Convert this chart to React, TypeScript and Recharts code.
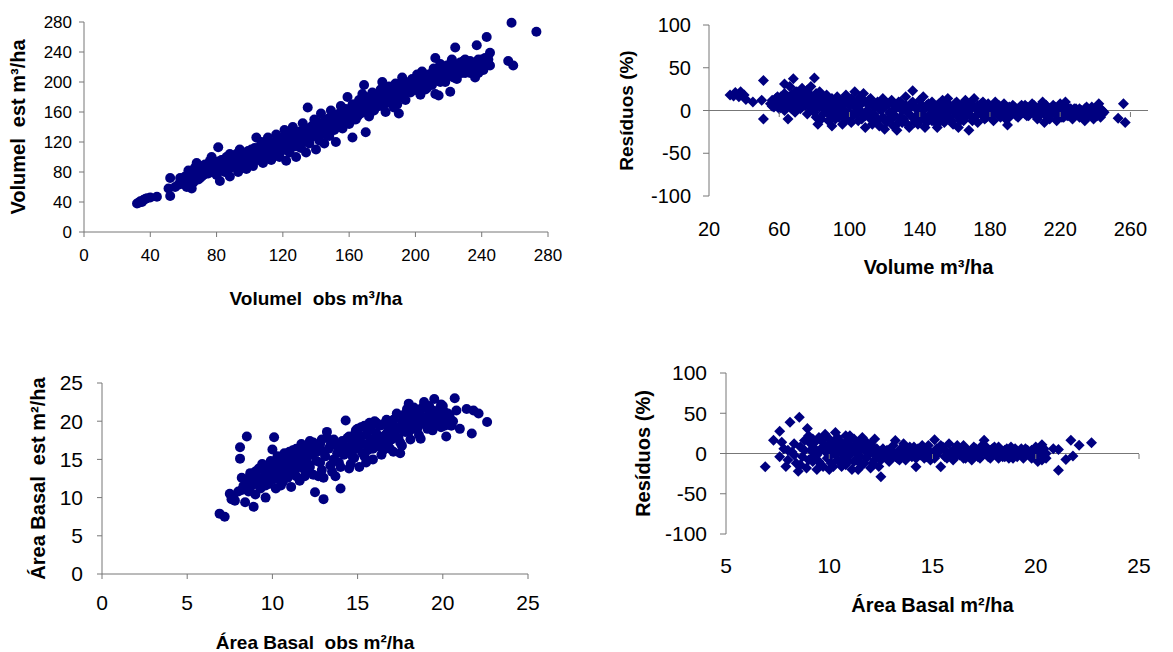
import { ScatterChart, Scatter, XAxis, YAxis, ReferenceLine } from 'recharts'

const FONT = '"Liberation Sans", Arial, sans-serif'
const NAVY = '#000080'
const AXIS = '#777777'

// tick labels
const volumeTicks = [0, 40, 80, 120, 160, 200, 240, 280]
const volumeResTicks = [20, 60, 100, 140, 180, 220, 260]
const basalTicks = [0, 5, 10, 15, 20, 25]
const basalResTicks = [5, 10, 15, 20, 25]
const residualTicks = [-100, -50, 0, 50, 100]

// volume: observed vs estimated (m³/ha)
const volumeFit: [number, number][] = [
  [32, 38], [33, 39], [34, 41], [35, 40], [36, 43], [37, 44], [38, 45], [40, 46], [44, 47],
  [51, 58], [52, 72], [52, 48], [55, 60], [57, 63], [58, 66], [58, 72], [60, 64], [60, 70],
  [61, 74], [62, 68], [62, 60], [63, 75], [63, 82], [64, 62], [64, 70], [65, 58], [65, 72],
  [66, 80], [66, 66], [67, 86], [67, 78], [68, 92], [68, 76], [69, 70], [69, 82], [70, 88],
  [70, 80], [70, 72], [71, 74], [71, 84], [72, 84], [72, 76], [73, 90], [73, 80], [74, 78],
  [74, 88], [75, 86], [75, 78], [76, 95], [76, 82], [77, 100], [77, 86], [78, 88], [78, 80],
  [79, 80], [79, 90], [80, 92], [80, 76], [80, 84], [81, 113], [81, 94], [82, 68], [82, 86],
  [83, 96], [83, 82], [84, 90], [84, 96], [85, 80], [85, 88], [86, 100], [86, 92], [87, 94],
  [87, 84], [88, 74], [88, 104], [88, 96], [89, 86], [89, 100], [90, 98], [90, 90], [91, 90],
  [91, 96], [92, 104], [92, 94], [93, 80], [93, 100], [94, 110], [94, 92], [95, 95], [95, 104],
  [96, 88], [96, 96], [97, 102], [97, 92], [98, 84], [98, 100], [99, 108], [99, 96], [100, 94],
  [100, 104], [101, 100], [101, 110], [102, 88], [102, 100], [103, 112], [103, 96], [104, 126],
  [104, 106], [105, 96], [105, 112], [106, 106], [106, 98], [107, 120], [107, 108], [108, 92],
  [108, 104], [109, 114], [109, 98], [110, 100], [110, 116], [111, 126], [111, 108], [112, 108],
  [112, 120], [113, 96], [113, 110], [114, 118], [114, 104], [115, 104], [115, 116], [116, 130],
  [116, 110], [117, 112], [117, 124], [118, 100], [118, 114], [119, 122], [119, 108], [120, 110],
  [120, 126], [121, 136], [121, 118], [122, 95], [122, 112], [123, 118], [123, 128], [124, 106],
  [124, 120], [125, 130], [125, 114], [126, 140], [126, 124], [127, 114], [127, 132], [128, 100],
  [128, 120], [129, 124], [129, 114], [130, 134], [130, 124], [131, 112], [131, 130], [132, 145],
  [132, 122], [133, 122], [133, 136], [134, 106], [134, 128], [135, 166], [135, 130], [135, 120],
  [136, 118], [136, 134], [137, 140], [137, 126], [138, 128], [138, 142], [139, 150], [139, 132],
  [140, 110], [140, 140], [141, 134], [141, 146], [142, 122], [142, 138], [143, 158], [143, 130],
  [144, 144], [144, 136], [145, 118], [145, 148], [146, 138], [146, 130], [147, 150], [147, 142],
  [148, 128], [148, 152], [149, 162], [149, 140], [150, 142], [150, 150], [151, 136], [151, 156],
  [152, 120], [152, 146], [153, 154], [153, 140], [154, 146], [154, 158], [155, 168], [155, 152],
  [156, 138], [156, 160], [157, 160], [157, 146], [158, 150], [158, 164], [159, 180], [159, 154],
  [160, 144], [160, 162], [161, 156], [161, 148], [162, 126], [162, 170], [163, 170], [163, 158],
  [164, 150], [164, 166], [165, 162], [165, 154], [166, 176], [166, 168], [167, 158], [167, 172],
  [168, 184], [168, 160], [169, 196], [169, 176], [170, 133], [170, 166], [170, 180], [171, 168],
  [172, 154], [172, 176], [173, 174], [173, 160], [174, 186], [174, 170], [175, 162], [175, 182],
  [176, 178], [176, 166], [177, 174], [178, 168], [178, 186], [179, 190], [179, 178], [180, 200],
  [180, 168], [181, 172], [181, 186], [182, 160], [182, 178], [183, 184], [183, 172], [184, 194],
  [184, 182], [185, 176], [185, 192], [186, 188], [186, 180], [187, 166], [188, 198], [188, 186],
  [189, 170], [189, 192], [190, 158], [190, 180], [191, 182], [191, 196], [192, 206], [193, 190],
  [193, 184], [194, 176], [194, 200], [195, 188], [196, 196], [197, 186], [197, 194], [198, 204],
  [199, 200], [200, 190], [200, 204], [201, 210], [202, 196], [202, 188], [203, 183], [203, 202],
  [204, 214], [205, 204], [205, 196], [206, 190], [206, 208], [207, 200], [207, 192], [208, 210],
  [209, 204], [210, 196], [210, 212], [211, 218], [212, 232], [212, 184], [212, 202], [213, 206],
  [214, 182], [214, 214], [215, 224], [215, 200], [216, 212], [217, 208], [218, 200], [218, 218],
  [219, 222], [220, 208], [220, 214], [221, 187], [221, 224], [222, 230], [223, 214], [223, 206],
  [224, 246], [224, 220], [225, 204], [225, 214], [226, 220], [227, 226], [228, 212], [228, 218],
  [229, 228], [230, 230], [230, 212], [231, 216], [232, 222], [232, 214], [233, 212], [233, 228],
  [234, 226], [235, 220], [236, 206], [236, 218], [237, 249], [237, 224], [238, 230], [238, 212],
  [239, 216], [239, 228], [240, 220], [240, 230], [241, 226], [241, 216], [242, 232], [242, 224],
  [243, 260], [244, 224], [244, 230], [245, 239], [245, 222], [256, 228], [258, 279], [259, 222],
  [273, 267],
]

// volume residuals (%)
const volumeResiduals: [number, number][] = [
  [32, 18], [34, 17], [35, 21], [37, 16], [38, 22], [40, 18], [41, 13], [45, 10], [50, 12],
  [51, 35], [51, -10], [55, 8], [56, 5], [56, 12], [57, 4], [58, 14], [58, 6], [59, 10], [59, 16],
  [60, 2], [60, 10], [61, 16], [61, 4], [62, 8], [62, 14], [63, 31], [63, 0], [63, 20], [64, 12],
  [64, 6], [65, -10], [65, 16], [66, 28], [66, 4], [66, 10], [67, 18], [67, 2], [68, 37], [68, 8],
  [68, 14], [69, -2], [69, 22], [70, 22], [70, 6], [71, 12], [71, 18], [72, 2], [72, 10], [73, 26],
  [73, 4], [74, 14], [74, 20], [75, 6], [75, 12], [76, -4], [76, 24], [77, 20], [77, 4], [78, 28],
  [78, 10], [78, 16], [79, 0], [79, 8], [80, 38], [80, 16], [80, -2], [81, -8], [81, 20], [82, -16],
  [82, 6], [82, 12], [83, 22], [83, 4], [84, 12], [84, -10], [85, -4], [85, 14], [86, 2], [86, 8],
  [87, 18], [87, 0], [88, -12], [88, 12], [89, 8], [89, -6], [90, -18], [90, 14], [90, 4], [91, -2],
  [91, 10], [92, 4], [92, -10], [93, 16], [93, 2], [94, -8], [94, 12], [95, 10], [95, -4], [96, -16],
  [96, 6], [97, 0], [97, 14], [98, 18], [98, -10], [99, -6], [99, 8], [100, 6], [100, -2],
  [101, -14], [101, 14], [102, 12], [102, -6], [103, 22], [103, 4], [104, -4], [104, 10], [105, 2],
  [105, -12], [106, 16], [106, 6], [107, -10], [107, -2], [108, 20], [108, 12], [109, -20],
  [109, -6], [110, 8], [110, 0], [111, -2], [111, 12], [112, 14], [112, -10], [113, -16], [113, 6],
  [114, 4], [114, -4], [115, -8], [115, 8], [116, 10], [116, -12], [117, -18], [117, 2], [118, 0],
  [118, 10], [119, 14], [119, -8], [120, -22], [120, 4], [121, 6], [121, -14], [122, -12], [122, 8],
  [123, -4], [123, -2], [124, 12], [124, -10], [125, -18], [125, 6], [126, 2], [126, -6], [127, -23],
  [127, 4], [128, 10], [128, -14], [129, -8], [129, 10], [130, -14], [130, 0], [131, 4], [131, -10],
  [132, 16], [132, 6], [133, -2], [133, -16], [134, -20], [134, 2], [135, 8], [135, -6], [136, 23],
  [136, 10], [137, -10], [137, -14], [138, 2], [138, 4], [139, -16], [139, -4], [140, 12],
  [140, -12], [141, -4], [141, 6], [142, 16], [142, -8], [143, -20], [143, 2], [144, 6], [144, -14],
  [145, -8], [145, 8], [146, 2], [146, -4], [147, 10], [147, -12], [148, -12], [148, 4], [149, -2],
  [149, -8], [150, -20], [150, 6], [151, 8], [151, -14], [152, -6], [152, 2], [153, 12], [153, -4],
  [154, -14], [154, 8], [155, 2], [155, -10], [156, 14], [156, -2], [157, -8], [157, 6], [158, 4],
  [158, -12], [159, -16], [159, 2], [160, -2], [160, 8], [161, 10], [161, -6], [162, -20], [162, 4],
  [163, -4], [163, -12], [164, 6], [164, -2], [165, -12], [165, 6], [166, 12], [166, -8], [167, 0],
  [167, 8], [168, -23], [168, -4], [169, 8], [169, 2], [170, -8], [170, -12], [171, 14], [171, 4],
  [172, 2], [172, -6], [173, -14], [173, 6], [174, 6], [174, -2], [175, -4], [175, 8], [176, 10],
  [176, -6], [177, -10], [177, 2], [178, 0], [178, -8], [179, 8], [179, 4], [180, -6], [180, 2],
  [181, 4], [181, -4], [182, -12], [182, 6], [183, 10], [183, -2], [184, -2], [184, 4], [185, 6],
  [185, -6], [186, -8], [186, 4], [187, 2], [187, -4], [188, 8], [188, 0], [189, -10], [189, 4],
  [190, -17], [190, -4], [191, 4], [191, -8], [192, -4], [192, 2], [193, 6], [193, -2], [194, 4],
  [195, 0], [195, -6], [196, -8], [196, 2], [197, 4], [197, -4], [198, 6], [199, -2], [199, 2],
  [200, 6], [200, -4], [201, -6], [201, 4], [202, -6], [203, 2], [203, -2], [204, 8], [204, 2],
  [205, -4], [205, 6], [206, -4], [207, -10], [207, 2], [208, 4], [208, -6], [209, -2], [209, 4],
  [210, 10], [210, -2], [211, -14], [211, 2], [212, -6], [212, 6], [213, 2], [213, -8], [214, -10],
  [214, 2], [215, -4], [216, 6], [216, -2], [217, -4], [217, 4], [218, -12], [218, 0], [219, 2],
  [219, -6], [220, 8], [220, 2], [221, -8], [221, 4], [222, -2], [222, -8], [223, 10], [223, -2],
  [224, -6], [224, 4], [225, 0], [225, -6], [226, 2], [227, -10], [227, -2], [228, 2], [228, -6],
  [229, -4], [229, 2], [230, -4], [231, -8], [231, 2], [232, 0], [232, -6], [233, -2], [234, -12],
  [234, 2], [235, 4], [235, -6], [236, -6], [236, 0], [237, -4], [238, -2], [238, 4], [239, -10],
  [240, 2], [240, -6], [241, -6], [241, 0], [242, 8], [242, -2], [243, -8], [243, 2], [244, 0],
  [244, -4], [245, -2], [253, -9], [256, 8], [257, -14],
]

// basal area: observed vs estimated (m²/ha)
const basalFit: [number, number][] = [
  [6.9, 7.9], [7.2, 7.5], [7.5, 10.5], [7.6, 9.8], [7.7, 10.2], [7.8, 9.6], [8.0, 10.8],
  [8.1, 16.6], [8.1, 15.1], [8.2, 12.6], [8.2, 11.0], [8.3, 11.5], [8.4, 9.4], [8.4, 12.4],
  [8.5, 18.0], [8.5, 12.0], [8.6, 10.8], [8.6, 11.4], [8.7, 13.2], [8.8, 11.6], [8.8, 12.8],
  [8.9, 8.8], [9.0, 12.4], [9.0, 10.4], [9.0, 13.4], [9.1, 11.8], [9.1, 12.8], [9.2, 13.8],
  [9.3, 11.2], [9.3, 12.4], [9.4, 14.4], [9.4, 12.0], [9.5, 12.6], [9.5, 13.6], [9.6, 10.0],
  [9.6, 11.6], [9.7, 13.2], [9.7, 14.2], [9.8, 11.8], [9.8, 13.6], [9.9, 14.8], [9.9, 12.6],
  [10.0, 16.3], [10.0, 14.0], [10.1, 17.9], [10.1, 12.4], [10.2, 11.2], [10.2, 13.0],
  [10.3, 15.4], [10.3, 14.8], [10.4, 13.6], [10.4, 12.4], [10.5, 14.6], [10.5, 11.6],
  [10.6, 12.0], [10.6, 14.0], [10.7, 15.8], [10.7, 13.2], [10.8, 13.0], [10.8, 15.0],
  [10.9, 14.2], [10.9, 12.6], [11.0, 16.0], [11.0, 13.8], [11.0, 14.8], [11.1, 11.4],
  [11.1, 13.6], [11.2, 15.0], [11.2, 16.2], [11.3, 13.4], [11.3, 14.6], [11.4, 16.4],
  [11.4, 12.8], [11.5, 14.0], [11.5, 15.8], [11.5, 15.2], [11.6, 12.2], [11.6, 14.2],
  [11.7, 17.0], [11.7, 15.6], [11.8, 15.2], [11.8, 13.8], [11.9, 12.8], [11.9, 16.0],
  [12.0, 16.6], [12.0, 13.6], [12.0, 15.0], [12.1, 14.4], [12.1, 16.8], [12.2, 17.4],
  [12.2, 14.0], [12.3, 15.6], [12.3, 16.4], [12.4, 13.0], [12.4, 17.2], [12.5, 10.7],
  [12.6, 16.0], [12.6, 14.8], [12.7, 12.8], [12.8, 14.6], [12.8, 17.0], [12.9, 17.6],
  [12.9, 13.6], [13.0, 9.8], [13.0, 12.6], [13.0, 16.0], [13.1, 15.4], [13.2, 18.6],
  [13.2, 17.8], [13.3, 16.4], [13.4, 14.2], [13.4, 16.8], [13.5, 17.2], [13.5, 13.4],
  [13.6, 15.0], [13.6, 17.6], [13.7, 12.8], [13.8, 16.8], [13.8, 15.8], [13.9, 14.6],
  [14.0, 11.2], [14.0, 14.0], [14.0, 17.0], [14.1, 17.4], [14.2, 15.6], [14.2, 16.2],
  [14.3, 20.1], [14.4, 16.6], [14.4, 17.8], [14.5, 18.0], [14.5, 13.8], [14.6, 14.4],
  [14.6, 16.0], [14.7, 17.2], [14.7, 15.4], [14.8, 15.2], [14.8, 18.2], [14.9, 18.8],
  [14.9, 16.8], [15.0, 16.4], [15.0, 17.8], [15.0, 19.0], [15.1, 14.0], [15.2, 19.2],
  [15.2, 18.0], [15.3, 17.0], [15.3, 15.8], [15.4, 15.4], [15.4, 19.4], [15.5, 18.2],
  [15.5, 14.6], [15.6, 16.2], [15.6, 18.6], [15.7, 19.8], [15.7, 17.2], [15.8, 17.6],
  [15.8, 19.2], [15.9, 15.0], [15.9, 16.4], [16.0, 20.0], [16.0, 16.6], [16.0, 17.4],
  [16.1, 18.4], [16.1, 19.8], [16.2, 16.8], [16.2, 18.0], [16.3, 19.4], [16.4, 15.6],
  [16.4, 17.6], [16.5, 18.0], [16.5, 16.2], [16.5, 19.6], [16.6, 17.0], [16.7, 20.2],
  [16.7, 18.4], [16.8, 18.8], [16.8, 17.2], [16.9, 16.4], [16.9, 18.2], [17.0, 19.6],
  [17.0, 17.6], [17.0, 18.6], [17.1, 16.0], [17.1, 20.2], [17.2, 18.2], [17.3, 21.0],
  [17.3, 19.2], [17.4, 19.0], [17.4, 17.8], [17.5, 17.2], [17.5, 15.8], [17.6, 16.8],
  [17.6, 20.0], [17.7, 20.4], [17.7, 18.8], [17.8, 18.6], [17.8, 21.0], [17.9, 21.6],
  [17.9, 19.8], [18.0, 22.3], [18.0, 19.4], [18.0, 18.6], [18.0, 20.4], [18.1, 17.6],
  [18.2, 20.8], [18.2, 19.4], [18.3, 19.0], [18.3, 21.8], [18.4, 21.4], [18.4, 20.2],
  [18.5, 20.0], [18.5, 19.0], [18.6, 18.2], [18.6, 21.2], [18.7, 17.7], [18.7, 19.6],
  [18.8, 21.8], [18.8, 20.6], [18.9, 22.5], [19.0, 20.4], [19.0, 21.8], [19.0, 19.6],
  [19.1, 19.0], [19.2, 21.2], [19.2, 22.0], [19.3, 20.6], [19.3, 19.8], [19.4, 18.8],
  [19.4, 21.4], [19.5, 22.9], [19.5, 20.2], [19.6, 21.0], [19.6, 20.0], [19.7, 19.6],
  [19.8, 20.8], [19.8, 21.6], [19.9, 19.2], [19.9, 22.2], [20.0, 22.0], [20.0, 20.2],
  [20.1, 21.2], [20.1, 19.4], [20.2, 18.0], [20.3, 19.8], [20.3, 21.0], [20.4, 20.6],
  [20.5, 19.4], [20.6, 20.0], [20.7, 23.0], [20.8, 21.4], [21.0, 19.0], [21.4, 21.6],
  [21.7, 18.4], [21.8, 21.4], [22.1, 21.0], [22.6, 19.9],
]

// basal area residuals (%)
const basalResiduals: [number, number][] = [
  [6.9, -16.5], [7.3, 16.5], [7.6, 27.7], [7.6, -4], [7.7, 14], [7.8, 6], [7.9, -16], [8.0, -8],
  [8.0, 4], [8.1, 38.9], [8.2, 2], [8.3, 12], [8.3, -2], [8.4, -12], [8.5, -22], [8.55, 45],
  [8.6, 8], [8.6, -14], [8.7, -4], [8.8, 16], [8.8, 4], [8.9, -18], [8.94, 31], [9.0, 22],
  [9.0, -8], [9.1, 4], [9.1, 12], [9.2, -10], [9.2, 18], [9.2, -4], [9.3, 14], [9.3, 6],
  [9.4, -2], [9.4, -20], [9.5, 20], [9.5, -10], [9.5, 2], [9.6, -14], [9.6, 6], [9.6, 16],
  [9.7, 8], [9.7, -16], [9.8, 24], [9.8, 10], [9.9, -6], [9.9, 0], [10.0, 12], [10.0, -20],
  [10.0, 18], [10.0, -4], [10.1, -12], [10.1, 6], [10.2, 2], [10.2, -16], [10.2, 14], [10.3, 26],
  [10.3, -2], [10.4, -8], [10.4, 20], [10.4, 8], [10.5, 16], [10.5, -10], [10.5, 4], [10.6, -16],
  [10.6, 0], [10.6, 12], [10.7, 6], [10.7, -6], [10.8, 22], [10.8, -14], [10.8, 2], [10.9, -4],
  [10.9, 16], [10.9, -10], [11.0, 10], [11.0, -2], [11.0, 22], [11.1, -20], [11.1, 4],
  [11.2, 18], [11.2, 8], [11.2, -10], [11.3, 0], [11.3, 12], [11.4, -10], [11.4, -20], [11.4, 2],
  [11.5, 14], [11.5, -4], [11.6, -14], [11.6, 20], [11.6, 8], [11.7, 4], [11.7, -12], [11.8, -6],
  [11.8, 14], [11.9, 10], [11.9, -2], [12.0, -18], [12.0, 12], [12.0, 4], [12.1, 2], [12.1, -12],
  [12.2, -8], [12.2, 18], [12.2, 6], [12.3, 6], [12.3, -4], [12.4, -16], [12.4, 2], [12.5, -29],
  [12.5, -8], [12.6, -4], [12.6, 6], [12.7, -2], [12.8, 4], [12.9, -10], [12.9, 4], [13.0, 2],
  [13.0, -6], [13.1, 10], [13.1, 2], [13.2, 16], [13.2, -4], [13.3, -6], [13.4, 4], [13.4, -8],
  [13.5, -2], [13.5, 6], [13.6, 12], [13.6, 0], [13.7, -8], [13.8, 6], [13.8, -4], [13.9, 8],
  [14.0, -4], [14.0, 2], [14.1, 8], [14.2, -16.5], [14.2, -6], [14.3, 2], [14.3, 6], [14.4, -2],
  [14.5, 10], [14.6, -6], [14.6, 4], [14.7, -4], [14.8, 4], [14.8, 10], [14.9, -8], [15.0, 0],
  [15.1, 17], [15.1, -6], [15.2, -2], [15.2, 6], [15.3, 2], [15.4, -16.5], [15.4, 10],
  [15.5, 8], [15.6, -4], [15.6, 4], [15.7, -6], [15.8, 12], [15.8, 0], [15.9, 2], [16.0, -8],
  [16.0, 4], [16.1, -4], [16.2, 6], [16.2, 10], [16.3, -2], [16.4, 0], [16.5, 10], [16.5, -6],
  [16.6, -6], [16.7, 4], [16.8, 2], [16.8, -4], [16.9, -8], [17.0, 2], [17.0, 8], [17.1, 6],
  [17.2, -4], [17.3, -6], [17.4, 10], [17.4, 2], [17.5, 16.5], [17.6, 0], [17.6, 8], [17.7, -4],
  [17.8, -6], [17.8, 4], [17.9, 6], [18.0, 0], [18.0, 8], [18.1, -2], [18.2, 8], [18.2, -6],
  [18.3, 2], [18.4, -4], [18.5, 4], [18.5, -4], [18.6, 6], [18.7, -6], [18.8, 8], [18.8, 0],
  [18.9, -6], [19.0, 0], [19.0, 6], [19.1, -4], [19.2, 2], [19.3, 6], [19.4, -6], [19.5, -2],
  [19.5, 6], [19.6, 4], [19.7, 0], [19.8, -6], [19.8, 4], [20.0, 8], [20.0, -2], [20.1, -10],
  [20.1, 4], [20.2, 2], [20.3, 11], [20.3, -8], [20.4, -4], [20.4, 6], [20.5, -6], [20.5, 0],
  [20.85, 5.8], [21.1, -20.7], [21.1, 5], [21.46, -7.5], [21.7, 16.5], [21.8, -3], [22.1, 10.3],
  [22.7, 13.2],
]

const toPoints = (rows: [number, number][]) => rows.map(([x, y]) => ({ x, y }))

const Dot = (props: any) => <circle cx={props.cx} cy={props.cy} r={5} fill={NAVY} />

const Diamond = (props: any) => {
  const { cx, cy } = props
  return (
    <polygon
      points={`${cx},${cy - 5.5} ${cx + 5.5},${cy} ${cx},${cy + 5.5} ${cx - 5.5},${cy}`}
      fill={NAVY}
    />
  )
}

// x labels sit under the plot, tick marks sit on the zero line
function ZeroLineTick(props: any) {
  const { x, y, payload, index, drop, fontSize } = props
  return (
    <g>
      {index > 0 && <line x1={x} x2={x} y1={y - drop} y2={y - drop + 5} stroke={AXIS} />}
      <text x={x} y={y} dy="0.71em" textAnchor="middle" fontSize={fontSize} fill="#000">
        {payload.value}
      </text>
    </g>
  )
}

const titleStyle = (size: number) => ({ fontWeight: 'bold', fontSize: size, fill: '#000' })

export default function App() {
  return (
    <div style={{ position: 'absolute', left: 0, top: 0, width: 1173, height: 652, background: '#fff', fontFamily: FONT }}>
      {/* volume fit */}
      <div style={{ position: 'absolute', left: 0, top: 0 }}>
        <ScatterChart width={580} height={320} margin={{ top: 22, right: 32, bottom: 0, left: 0 }}>
          <XAxis
            type="number" dataKey="x" domain={[0, 280]} ticks={volumeTicks} interval={0}
            height={88} stroke={AXIS} tick={{ fill: '#000', fontSize: 17 }} tickSize={5} tickMargin={12}
            label={{ value: 'Volumel\u00a0 obs m³/ha', position: 'insideBottom', offset: 15, style: titleStyle(19) }}
          />
          <YAxis
            type="number" dataKey="y" domain={[0, 280]} ticks={volumeTicks} interval={0}
            width={84} stroke={AXIS} tick={{ fill: '#000', fontSize: 17 }} tickSize={5} tickMargin={7}
            label={{ value: 'Volumel\u00a0 est m³/ha', angle: -90, position: 'insideLeft', offset: 18, style: { ...titleStyle(20), textAnchor: 'middle' } }}
          />
          <Scatter data={toPoints(volumeFit)} shape={Dot} isAnimationActive={false} />
        </ScatterChart>
      </div>

      {/* volume residuals */}
      <div style={{ position: 'absolute', left: 590, top: 0 }}>
        <ScatterChart width={583} height={320} margin={{ top: 25, right: 25, bottom: 0, left: 0 }}>
          <XAxis
            type="number" dataKey="x" domain={[20, 270]} ticks={volumeResTicks} interval={0}
            height={124} axisLine={false} tickLine={false} tickSize={0} tickMargin={26}
            tick={<ZeroLineTick drop={110} fontSize={20} />}
            label={{ value: 'Volume m³/ha', position: 'insideBottom', offset: 46, style: titleStyle(20) }}
          />
          <YAxis
            type="number" dataKey="y" domain={[-100, 100]} ticks={residualTicks} interval={0}
            width={119} stroke={AXIS} tick={{ fill: '#000', fontSize: 20 }} tickSize={6} tickMargin={12}
            label={{ value: 'Resíduos (%)', angle: -90, position: 'insideLeft', offset: 36, style: { ...titleStyle(19), textAnchor: 'middle' } }}
          />
          <ReferenceLine y={0} stroke={AXIS} />
          <Scatter data={toPoints(volumeResiduals)} shape={Diamond} isAnimationActive={false} />
        </ScatterChart>
      </div>

      {/* basal area fit */}
      <div style={{ position: 'absolute', left: 0, top: 350 }}>
        <ScatterChart width={580} height={302} margin={{ top: 33, right: 52, bottom: 0, left: 0 }}>
          <XAxis
            type="number" dataKey="x" domain={[0, 25]} ticks={basalTicks} interval={0}
            height={78} stroke={AXIS} tick={{ fill: '#000', fontSize: 21 }} tickSize={5} tickMargin={16}
            label={{ value: 'Área Basal\u00a0 obs m²/ha', position: 'insideBottom', offset: 3, style: titleStyle(19) }}
          />
          <YAxis
            type="number" dataKey="y" domain={[0, 25]} ticks={basalTicks} interval={0}
            width={102} stroke={AXIS} tick={{ fill: '#000', fontSize: 21 }} tickSize={5} tickMargin={14}
            label={{ value: 'Área Basal\u00a0 est m²/ha', angle: -90, position: 'insideLeft', offset: 38, style: { ...titleStyle(20), textAnchor: 'middle' } }}
          />
          <Scatter data={toPoints(basalFit)} shape={Dot} isAnimationActive={false} />
        </ScatterChart>
      </div>

      {/* basal area residuals */}
      <div style={{ position: 'absolute', left: 590, top: 350 }}>
        <ScatterChart width={583} height={302} margin={{ top: 23, right: 34, bottom: 0, left: 0 }}>
          <XAxis
            type="number" dataKey="x" domain={[5, 25]} ticks={basalResTicks} interval={0}
            height={118} axisLine={false} tickLine={false} tickSize={0} tickMargin={24}
            tick={<ZeroLineTick drop={104} fontSize={21} />}
            label={{ value: 'Área Basal m²/ha', position: 'insideBottom', offset: 40, style: titleStyle(20) }}
          />
          <YAxis
            type="number" dataKey="y" domain={[-100, 100]} ticks={residualTicks} interval={0}
            width={136} stroke={AXIS} tick={{ fill: '#000', fontSize: 21 }} tickSize={6} tickMargin={13}
            label={{ value: 'Resíduos (%)', angle: -90, position: 'insideLeft', offset: 53, style: { ...titleStyle(20), textAnchor: 'middle' } }}
          />
          <ReferenceLine y={0} stroke={AXIS} />
          <Scatter data={toPoints(basalResiduals)} shape={Diamond} isAnimationActive={false} />
        </ScatterChart>
      </div>
    </div>
  )
}
